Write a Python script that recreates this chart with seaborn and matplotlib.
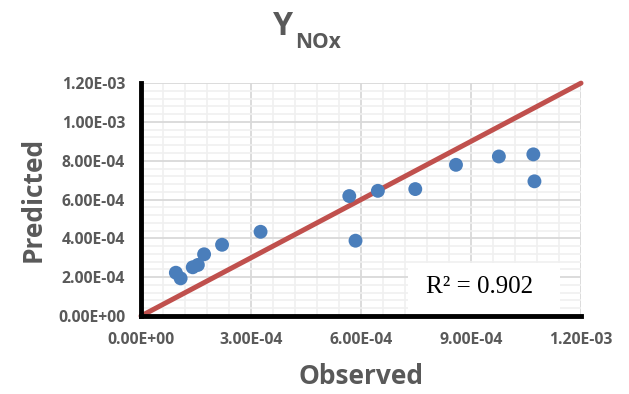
import matplotlib
matplotlib.use("Agg")
import matplotlib.pyplot as plt
from matplotlib.ticker import MultipleLocator, FuncFormatter
from matplotlib.patches import Rectangle
import seaborn as sns
import pandas as pd

# Observed vs. predicted NOx yield
observed = [9.5e-5, 1.08e-4, 1.41e-4, 1.55e-4, 1.72e-4, 2.21e-4, 3.26e-4,
            5.68e-4, 5.85e-4, 6.46e-4, 7.48e-4, 8.59e-4, 9.76e-4, 1.07e-3, 1.073e-3]
predicted = [2.23e-4, 1.94e-4, 2.51e-4, 2.63e-4, 3.18e-4, 3.67e-4, 4.34e-4,
             6.18e-4, 3.88e-4, 6.45e-4, 6.54e-4, 7.79e-4, 8.22e-4, 8.33e-4, 6.94e-4]
parity = [0.0, 1.2e-3]
r_squared = 0.902

x_ticks = [0.0, 3e-4, 6e-4, 9e-4, 1.2e-3]
y_ticks = [0.0, 2e-4, 4e-4, 6e-4, 8e-4, 1.0e-3, 1.2e-3]

sns.set_theme(style="white")
plt.rcParams["font.family"] = ["Open Sans", "DejaVu Sans"]

grey = "#595959"
df = pd.DataFrame({"Observed": observed, "Predicted": predicted})
line_df = pd.DataFrame({"x": parity, "y": parity})

fig = plt.figure(figsize=(6.29, 3.94), dpi=100)
ax = fig.add_axes([0.2242, 0.198, 0.6995, 0.591])

ax.set_xlim(x_ticks[0], x_ticks[-1])
ax.set_ylim(y_ticks[0], y_ticks[-1])
ax.set_xticks(x_ticks)
ax.set_yticks(y_ticks)
ax.xaxis.set_minor_locator(MultipleLocator(6e-5))
ax.yaxis.set_minor_locator(MultipleLocator(4e-5))
fmt = FuncFormatter(lambda v, p: f"{v:.2E}")
ax.xaxis.set_major_formatter(fmt)
ax.yaxis.set_major_formatter(fmt)

ax.grid(which="minor", color="#F0F0F0", linewidth=1.2, zorder=0)
ax.grid(which="major", color="#D9D9D9", linewidth=1.3, zorder=0)
ax.set_axisbelow(True)

sns.lineplot(data=line_df, x="x", y="y", ax=ax, color="#C0504D",
             linewidth=3.6, zorder=3, clip_on=False)
sns.scatterplot(data=df, x="Observed", y="Predicted", ax=ax, s=100,
                color="#4A7EBB", edgecolor="none", zorder=4, clip_on=False)

for side in ("top", "right"):
    ax.spines[side].set_visible(False)
for side in ("left", "bottom"):
    ax.spines[side].set_color("black")
    ax.spines[side].set_linewidth(3.5)
    ax.spines[side].set_zorder(5)

ax.tick_params(which="major", direction="out", length=3.5, width=3.5,
               color="black", labelsize=11.3, labelcolor=grey)
ax.tick_params(axis="y", which="major", pad=8)
ax.tick_params(axis="x", which="major", pad=8)
ax.tick_params(which="minor", length=0)
for lbl in ax.get_xticklabels() + ax.get_yticklabels():
    lbl.set_fontweight("bold")

ax.set_xlabel("Observed", fontsize=19, fontweight="bold", color=grey, labelpad=11)
ax.set_ylabel("Predicted", fontsize=19, fontweight="bold", color=grey, labelpad=8)

# White panel behind the R² annotation
ax.add_patch(Rectangle((0.607, 0.0), 0.345, 0.227, transform=ax.transAxes,
                       facecolor="white", edgecolor="none", zorder=2))
ax.text(0.77, 0.125, f"R² = {r_squared:.3f}", transform=ax.transAxes,
        ha="center", va="center", fontsize=18, family="Liberation Serif",
        color="black", zorder=6)

# Title: Y with subscript NOx
fig.text(0.4658, 0.911, "Y", ha="right", va="baseline", fontsize=23,
         fontweight="bold", color=grey)
fig.text(0.4690, 0.878, "NOx", ha="left", va="baseline", fontsize=15,
         fontweight="bold", color=grey)

fig.savefig("out.png", dpi=100)
